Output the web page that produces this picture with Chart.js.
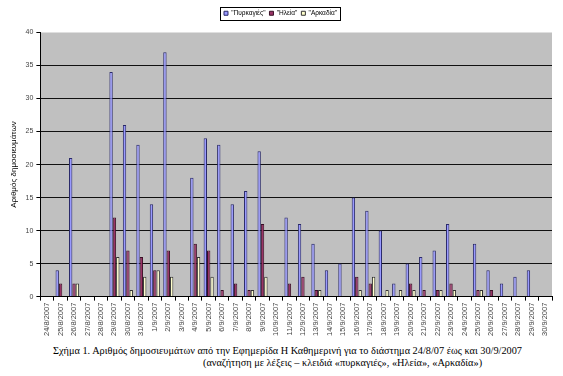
<!DOCTYPE html>
<html>
<head>
<meta charset="utf-8">
<script src="https://cdn.jsdelivr.net/npm/chart.js@4"></script>
<style>
  body { margin: 0; background: #fff; width: 563px; height: 376px; position: relative; overflow: hidden; }
  #wrap { position: absolute; left: 0; top: 0; width: 563px; height: 340px; }
  .cap { position: absolute; font-family: "Liberation Serif", serif; font-size: 10.3px; color: #000; white-space: nowrap; }
</style>
</head>
<body>
<div id="wrap"><canvas id="chart"></canvas></div>
<div class="cap" style="left:53px; top:345px;">Σχήμα 1. Αριθμός δημοσιευμάτων από την Εφημερίδα Η Καθημερινή για το διάστημα 24/8/07 έως και 30/9/2007</div>
<div class="cap" style="left:203px; top:357px;">(αναζήτηση με λέξεις – κλειδιά «πυρκαγιές», «Ηλεία», «Αρκαδία»)</div>
<script>
// --- Datos ---
const dates = ['24/8/2007','25/8/2007','26/8/2007','27/8/2007','28/8/2007','29/8/2007','30/8/2007','31/8/2007',
  '1/9/2007','2/9/2007','3/9/2007','4/9/2007','5/9/2007','6/9/2007','7/9/2007','8/9/2007','9/9/2007','10/9/2007',
  '11/9/2007','12/9/2007','13/9/2007','14/9/2007','15/9/2007','16/9/2007','17/9/2007','18/9/2007','19/9/2007',
  '20/9/2007','21/9/2007','22/9/2007','23/9/2007','24/9/2007','25/9/2007','26/9/2007','27/9/2007','28/9/2007',
  '29/9/2007','30/9/2007'];
const pyrkagies = [0,4,21,0,0,34,26,23,14,37,0,18,24,23,14,16,22,0,12,11,8,4,5,15,13,10,2,5,6,7,11,0,8,4,2,3,4,0];
const ileia     = [0,2,2,0,0,12,7,6,4,7,0,8,7,1,2,1,11,0,2,3,1,0,0,3,2,0,0,2,1,1,2,0,1,1,0,0,0,0];
const arkadia   = [0,0,2,0,0,6,1,3,4,3,0,6,3,0,0,1,3,0,0,0,1,0,0,1,3,1,1,1,0,1,1,0,1,0,0,0,0,0];
const seriesNames = ['"Πυρκαγιές"', '"Ηλεία"', '"Αρκαδία"'];

// fondo gris del área de trazado + marco de la leyenda
const plotBg = {
  id: 'plotBg',
  beforeInit(chart) {
    // un poco de aire entre la leyenda y el gráfico
    const fit = chart.legend.fit;
    chart.legend.fit = function () {
      fit.bind(chart.legend)();
      this.height += 6;
    };
  },
  beforeDraw(chart) {
    const { ctx, chartArea: a } = chart;
    ctx.save();
    ctx.fillStyle = '#c0c0c0';
    ctx.fillRect(a.left, a.top, a.right - a.left, a.bottom - a.top);
    ctx.restore();
  },
  afterDraw(chart) {
    const boxes = chart.legend.legendHitBoxes;
    if (!boxes || !boxes.length) return;
    let l = Infinity, r = -Infinity, t = Infinity, b = -Infinity;
    boxes.forEach(h => {
      l = Math.min(l, h.left); r = Math.max(r, h.left + h.width);
      t = Math.min(t, h.top); b = Math.max(b, h.top + h.height);
    });
    const ctx = chart.ctx;
    ctx.save();
    ctx.strokeStyle = '#000';
    ctx.lineWidth = 1;
    ctx.strokeRect(Math.round(l - 4) + 0.5, Math.round(t - 3) + 0.5, Math.round(r - l + 7), Math.round(b - t + 6));
    ctx.restore();
  }
};

new Chart(document.getElementById('chart'), {
  type: 'bar',
  data: {
    labels: dates,
    datasets: [
      { label: seriesNames[0], data: pyrkagies, backgroundColor: '#9999ff', borderColor: '#2a2a6a', borderWidth: 1 },
      { label: seriesNames[1], data: ileia, backgroundColor: '#993366', borderColor: '#3a1026', borderWidth: 1 },
      { label: seriesNames[2], data: arkadia, backgroundColor: '#ffffcc', borderColor: '#333', borderWidth: 1 }
    ]
  },
  options: {
    responsive: true,
    maintainAspectRatio: false,
    animation: false,
    datasets: { bar: { categoryPercentage: 0.75, barPercentage: 1 } },
    layout: { padding: { left: 9, right: 11, top: 6, bottom: 2 } },
    plugins: {
      legend: {
        position: 'top',
        labels: {
          boxWidth: 4, boxHeight: 4, padding: 4,
          color: '#000',
          font: { family: 'Liberation Sans', size: 6.5 }
        }
      },
      tooltip: { enabled: false }
    },
    scales: {
      x: {
        grid: { offset: true, drawOnChartArea: false, tickLength: 4, tickColor: '#000' },
        border: { color: '#000' },
        ticks: {
          autoSkip: false, maxRotation: 90, minRotation: 90,
          color: '#444', font: { family: 'Liberation Sans', size: 7.5 }, padding: 2
        }
      },
      y: {
        min: 0, max: 40,
        grid: {
          color: ctx => (ctx.tick && ctx.tick.value === 40) ? 'rgba(0,0,0,0)' : '#111',
          tickLength: 4, tickColor: '#000'
        },
        border: { color: '#000' },
        ticks: { stepSize: 5, color: '#444', font: { family: 'Liberation Sans', size: 7 }, padding: 3 },
        title: {
          display: true, text: 'Αριθμός δημοσιευμάτων',
          color: '#000', font: { family: 'Liberation Sans', size: 8 }, padding: { top: 0, bottom: 4 }
        }
      }
    }
  },
  plugins: [plotBg]
});
</script>
</body>
</html>
